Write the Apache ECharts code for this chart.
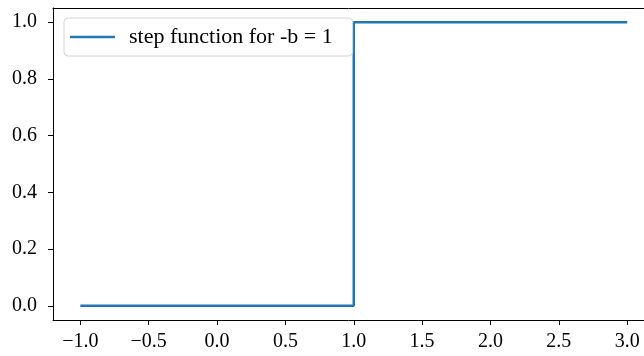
<!DOCTYPE html>
<html>
<head>
<meta charset="utf-8">
<script src="https://cdn.jsdelivr.net/npm/echarts@6/dist/echarts.min.js"></script>
<style>
  html, body { margin: 0; padding: 0; background: #fff; }
  #chart { width: 644px; height: 356px; }
</style>
</head>
<body>
<div id="chart"></div>
<script>
// step function data
var xValues = [-1, 1, 3];
var yValues = [0, 1, 1];
var xTicks = [-1, -0.5, 0, 0.5, 1, 1.5, 2, 2.5, 3];
var yTicks = [0, 0.2, 0.4, 0.6, 0.8, 1.0];
var seriesName = 'step function for -b = 1';

var chart = echarts.init(document.getElementById('chart'));
var font = 'Liberation Serif';

function fmt(v) {
    var s = v.toFixed(1);
    return v < 0 ? '\u2212' + s.slice(1) : s;
}

var points = [];
for (var i = 0; i < xValues.length; i++) {
    points.push([xValues[i], yValues[i]]);
}

// the original figure is cut off on the right, so the x range ends at the canvas edge
var option = {
    animation: false,
    grid: {
        left: 53,
        top: 8,
        right: 0,
        bottom: 36
    },
    legend: {
        left: 64,
        top: 18,
        data: [seriesName],
        icon: 'rect',
        itemWidth: 45,
        itemHeight: 2.5,
        padding: [8, 20, 8, 6],
        borderColor: '#d4d4d4',
        borderWidth: 1,
        borderRadius: 4,
        backgroundColor: 'rgba(255,255,255,0.8)',
        textStyle: {
            fontFamily: font,
            fontSize: 22,
            lineHeight: 20,
            color: '#000',
            padding: [0, 0, 0, 9]
        }
    },
    xAxis: [{
        type: 'value',
        min: -1.2,
        max: 3.123,
        splitLine: { show: false },
        axisLine: { onZero: false, lineStyle: { color: '#000', width: 1 } },
        axisTick: {
            show: true,
            length: 5,
            lineStyle: { color: '#000', width: 1 },
            customValues: xTicks
        },
        axisLabel: {
            customValues: xTicks,
            formatter: fmt,
            fontFamily: font,
            fontSize: 20,
            color: '#000',
            margin: 12
        }
    }, {
        // top spine
        type: 'value',
        position: 'top',
        min: -1.2,
        max: 3.123,
        splitLine: { show: false },
        axisLine: { show: true, onZero: false, lineStyle: { color: '#000', width: 1 } },
        axisTick: { show: false },
        axisLabel: { show: false }
    }],
    yAxis: {
        type: 'value',
        min: -0.05,
        max: 1.05,
        splitLine: { show: false },
        axisLine: { show: true, onZero: false, lineStyle: { color: '#000', width: 1 } },
        axisTick: {
            show: true,
            length: 5,
            lineStyle: { color: '#000', width: 1 },
            customValues: yTicks
        },
        axisLabel: {
            customValues: yTicks,
            formatter: fmt,
            fontFamily: font,
            fontSize: 20,
            color: '#000',
            margin: 16
        }
    },
    series: [{
        name: seriesName,
        type: 'line',
        step: 'end',
        data: points,
        showSymbol: false,
        symbol: 'none',
        lineStyle: { color: '#1f77b4', width: 2.5 },
        itemStyle: { color: '#1f77b4' }
    }]
};

chart.setOption(option);
</script>
</body>
</html>
